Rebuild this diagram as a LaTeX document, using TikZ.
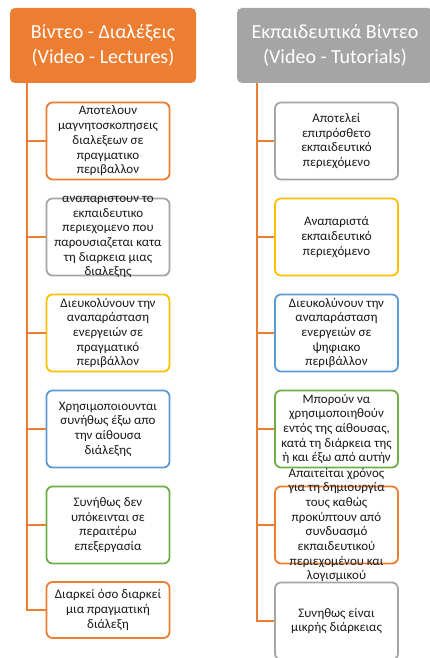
\documentclass[tikz,border=0pt]{standalone}
\usepackage{fontspec}
\setmainfont{Carlito}
\usepackage{tikz}
\definecolor{oforange}{RGB}{237,125,49}
\definecolor{ofgray}{RGB}{165,165,165}
\definecolor{ofyellow}{RGB}{255,192,0}
\definecolor{ofblue}{RGB}{91,155,213}
\definecolor{ofgreen}{RGB}{112,173,71}

\begin{document}
\begin{tikzpicture}[x=1pt,y=1pt,node distance=96pt,semithick]
 \tikzstyle{head}=[rounded corners=5pt,minimum width=186pt,minimum height=75pt,text=white,align=center,font=\fontsize{20}{25}\selectfont]
 \tikzstyle{item}=[draw,rounded corners=6pt,line width=1.8pt,minimum width=123pt,minimum height=77pt,fill=white]
 \tikzstyle{itemtext}=[align=center,text=black!90,inner sep=0pt,font=\fontsize{13}{14.7}\selectfont]
 \tikzstyle{conn}=[draw=oforange,line width=2pt]

 \useasboundingbox (0,0) rectangle (430,-658);

 % headers
 \node[head,fill=oforange] (lect) at (103,-45.5) {Βίντεο - Διαλέξεις\\(Video - Lectures)};
 \node[head,fill=ofgray,minimum width=196pt] (tut) at (335,-45.5) {Εκπαιδευτικά Βίντεο\\(Video - Tutorials)};

 \coordinate (ltop) at ([xshift=17.5pt]lect.south west);
 \coordinate (rtop) at ([xshift=20pt]tut.south west);

 % left column
 \node[item,draw=oforange] (l1) at (108,-141) {};
 \node[item,draw=ofgray] (l2) [below of=l1] {};
 \node[item,draw=ofyellow] (l3) [below of=l2] {};
 \node[item,draw=ofblue] (l4) [below of=l3] {};
 \node[item,draw=ofgreen] (l5) [below of=l4] {};
 \node[item,draw=oforange,minimum height=56pt] (l6) at (108,-610) {};

 % right column
 \node[item,draw=ofgray] (r1) at (336.5,-141) {};
 \node[item,draw=ofyellow] (r2) [below of=r1] {};
 \node[item,draw=ofblue] (r3) [below of=r2] {};
 \node[item,draw=ofgreen] (r4) [below of=r3] {};
 \node[item,draw=oforange] (r5) [below of=r4] {};
 \node[item,draw=ofgray] (r6) [below of=r5] {};

 \foreach \n in {l1,l2,l3,l4,l5,l6}
   \draw[conn] (ltop) |- (\n.west);
 \foreach \n in {r1,r2,r3,r4,r5,r6}
   \draw[conn] (rtop) |- (\n.west);

 % texts
 \node[itemtext] (l1t) at (l1) {Αποτελουν\\μαγνητοσκοπησεις\\διαλεξεων σε\\πραγματικο\\περιβαλλον};
 \node[itemtext] (l2t) at (l2) {αναπαριστουν το\\εκπαιδευτικο\\περιεχομενο που\\παρουσιαζεται κατα\\τη διαρκεια μιας\\διαλεξης};
 \node[itemtext] (l3t) at (l3) {Διευκολύνουν την\\αναπαράσταση\\ενεργειών σε\\πραγματικό\\περιβάλλον};
 \node[itemtext] (l4t) at (l4) {Χρησιμοποιουνται\\συνήθως έξω απο\\την αίθουσα\\διάλεξης};
 \node[itemtext] (l5t) at (l5) {Συνήθως δεν\\υπόκεινται σε\\περαιτέρω\\επεξεργασία};
 \node[itemtext] (l6t) at (l6) {Διαρκεί όσο διαρκεί\\μια πραγματική\\διάλεξη};

 \node[itemtext] (r1t) at (r1) {Αποτελεί\\επιπρόσθετο\\εκπαιδευτικό\\περιεχόμενο};
 \node[itemtext] (r2t) at (r2) {Αναπαριστά\\εκπαιδευτικό\\περιεχόμενο};
 \node[itemtext] (r3t) at (r3) {Διευκολύνουν την\\αναπαράσταση\\ενεργειών σε\\ψηφιακο\\περιβάλλον};
 \node[itemtext] (r4t) at (r4) {Μπορούν να\\χρησιμοποιηθούν\\εντός της αίθουσας,\\κατά τη διάρκεια της\\ή και έξω από αυτήν};
 \node[itemtext] (r5t) at (r5) {Απαιτείται χρόνος\\για τη δημιουργία\\τους καθώς\\προκύπτουν από\\συνδυασμό\\εκπαιδευτικού\\περιεχομένου και\\λογισμικού};
 \node[itemtext] (r6t) at (r6) {Συνηθως είναι\\μικρής διάρκειας};

\end{tikzpicture}
\end{document}
